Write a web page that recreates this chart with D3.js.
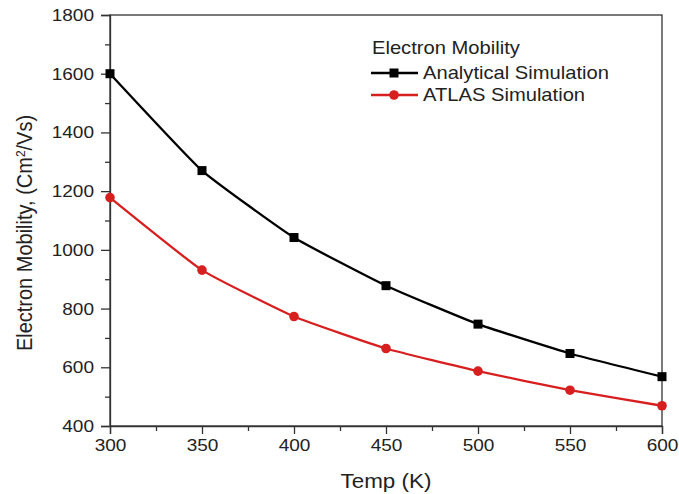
<!DOCTYPE html>
<html>
<head>
<meta charset="utf-8">
<script src="https://cdn.jsdelivr.net/npm/d3@7"></script>
<style>
  html, body { margin: 0; padding: 0; background: #fff; }
  svg { display: block; font-family: "Liberation Sans", Arial, sans-serif; }
</style>
</head>
<body>
<svg id="chart" width="679" height="494"></svg>
<script>
// Temperature points (K)
const temps = [300, 350, 400, 450, 500, 550, 600];
// Electron mobility (cm^2/Vs)
const analytical = [1600, 1270, 1042, 878, 747, 647, 568];
const atlas = [1178, 931, 773, 664, 587, 522, 469];
const xTicks = [300, 350, 400, 450, 500, 550, 600];
const yTicks = [400, 600, 800, 1000, 1200, 1400, 1600, 1800];
const seriesNames = ["Analytical Simulation", "ATLAS Simulation"];
const legendTitle = "Electron Mobility";

const svg = d3.select("#chart");
const m = { left: 110, right: 17, top: 15, bottom: 68 };
const W = 679, H = 494;

const x = d3.scaleLinear().domain([300, 600]).range([m.left, W - m.right]);
const y = d3.scaleLinear().domain([400, 1800]).range([H - m.bottom, m.top]);

const axisColor = "#333";
const textColor = "#222";
const stretch = 1.12; // horizontal text widening

// widen a text element horizontally around its own x position
function widen(sel) {
  sel.each(function () {
    const t = d3.select(this);
    const x0 = +(t.attr("x") || 0);
    t.attr("transform", `translate(${x0},0) scale(${stretch},1) translate(${-x0},0)`);
  });
}

// frame (top and right border)
svg.append("rect")
  .attr("x", x(300)).attr("y", y(1800))
  .attr("width", x(600) - x(300)).attr("height", y(400) - y(1800))
  .attr("fill", "none").attr("stroke", axisColor).attr("stroke-width", 1.3);

// minor ticks
svg.append("g").attr("transform", `translate(0,${y(400)})`)
  .call(d3.axisBottom(x).tickValues(d3.range(325, 600, 50)).tickSize(5).tickFormat(""))
  .call(g => g.select(".domain").remove());
svg.append("g").attr("transform", `translate(${x(300)},0)`)
  .call(d3.axisLeft(y).tickValues(d3.range(500, 1800, 200)).tickSize(5).tickFormat(""))
  .call(g => g.select(".domain").remove());

// major ticks with labels
const ax = svg.append("g").attr("transform", `translate(0,${y(400)})`)
  .call(d3.axisBottom(x).tickValues(xTicks).tickSize(8).tickPadding(5).tickFormat(d3.format("d")));
const ay = svg.append("g").attr("transform", `translate(${x(300)},0)`)
  .call(d3.axisLeft(y).tickValues(yTicks).tickSize(9).tickPadding(7).tickFormat(d3.format("d")));

svg.selectAll(".tick line").attr("stroke", axisColor).attr("stroke-width", 1.3);
svg.selectAll(".domain").attr("stroke", axisColor).attr("stroke-width", 1.3);
[ax, ay].forEach(g => g.selectAll("text")
  .attr("font-size", 17).attr("fill", textColor)
  .attr("font-family", "'Liberation Sans', Arial, sans-serif")
  .call(widen));

// axis titles
svg.append("text")
  .attr("x", (x(300) + x(600)) / 2).attr("y", 488)
  .attr("text-anchor", "middle").attr("font-size", 20).attr("fill", textColor)
  .text("Temp (K)")
  .call(widen);

const yt = svg.append("text")
  .attr("transform", `translate(32,233) scale(${stretch},1) rotate(-90)`)
  .attr("text-anchor", "middle").attr("font-size", 20).attr("fill", textColor);
yt.append("tspan").text("Electron Mobility, (Cm");
yt.append("tspan").attr("baseline-shift", "super").attr("font-size", 12).text("2");
yt.append("tspan").text("/Vs)");

// series
const series = [
  { name: seriesNames[0], values: analytical, color: "#000000", shape: "square" },
  { name: seriesNames[1], values: atlas, color: "#d71f1f", shape: "circle" }
];

// gently smoothed connecting line
const line = d3.line()
  .x((d, i) => x(temps[i]))
  .y(d => y(d))
  .curve(d3.curveCardinal.tension(0.6));

function drawMarker(g, shape, cx, cy, color) {
  if (shape === "square") {
    g.append("rect").attr("x", cx - 4.5).attr("y", cy - 4.5)
      .attr("width", 9).attr("height", 9).attr("fill", color);
  } else {
    g.append("circle").attr("cx", cx).attr("cy", cy).attr("r", 4.8).attr("fill", color);
  }
}

series.forEach(s => {
  svg.append("path").datum(s.values)
    .attr("d", line).attr("fill", "none")
    .attr("stroke", s.color).attr("stroke-width", 2.3);
  const g = svg.append("g");
  s.values.forEach((v, i) => drawMarker(g, s.shape, x(temps[i]), y(v), s.color));
});

// legend
const lg = svg.append("g").attr("transform", "translate(371,0)");
lg.append("text").attr("x", 1).attr("y", 54)
  .attr("font-size", 18).attr("fill", textColor).text(legendTitle).call(widen);
series.forEach((s, i) => {
  const ly = 73 + i * 22;
  lg.append("line").attr("x1", 0).attr("x2", 47).attr("y1", ly).attr("y2", ly)
    .attr("stroke", s.color).attr("stroke-width", 2.3);
  drawMarker(lg, s.shape, 23, ly, s.color);
  lg.append("text").attr("x", 52).attr("y", ly + 6.5)
    .attr("font-size", 18).attr("fill", textColor).text(s.name).call(widen);
});
</script>
</body>
</html>
